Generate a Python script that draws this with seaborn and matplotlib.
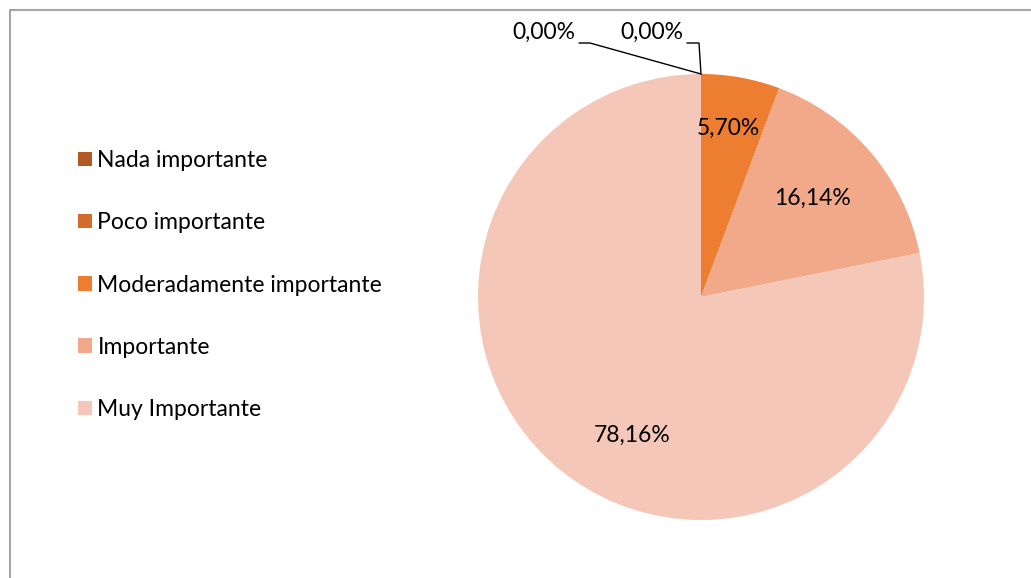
import numpy as np
import seaborn as sns
import matplotlib.pyplot as plt
from matplotlib.lines import Line2D

# data
categories = ["Nada importante", "Poco importante", "Moderadamente importante",
              "Importante", "Muy Importante"]
values = [0.00, 0.00, 5.70, 16.14, 78.16]
labels = ["0,00%", "0,00%", "5,70%", "16,14%", "78,16%"]
colors = ["#B25A26", "#D36B2C", "#ED7D31", "#F1A98A", "#F5C7B8"]

W, H = 1031, 578
CX, CY, R = 701, 297, 223  # pie centre / radius in pixels
FS = 16.5

sns.set_theme(style="white")
plt.rcParams['font.family'] = ['Lato', 'DejaVu Sans']
plt.rcParams['text.color'] = 'black'

fig = plt.figure(figsize=(W / 100, H / 100), dpi=100)
ax = fig.add_axes([0, 0, 1, 1])

wedges, _ = ax.pie(values, colors=colors, startangle=90, counterclock=False,
                   radius=1, wedgeprops=dict(linewidth=0))

ax.set_aspect('auto')
ax.set_xlim(-CX / R, (W - CX) / R)
ax.set_ylim(-(H - CY) / R, CY / R)
ax.axis('off')

# data labels (label positions in pie units)
label_pos = [(-0.704, 1.188), (-0.22, 1.188), (0.125, 0.758), (0.502, 0.444), (-0.309, -0.619)]
for txt, (x, y) in zip(labels, label_pos):
    ax.text(x, y, txt, ha='center', va='center', fontsize=FS, color='black')

# leader lines for the zero-size slices
for w, pts in zip(wedges[:2], [[(-0.547, 1.139), (-0.498, 1.139)],
                               [(-0.063, 1.139), (-0.009, 1.139)]]):
    tip = (np.cos(np.radians(w.theta2)), np.sin(np.radians(w.theta2)))
    xs = [p[0] for p in pts] + [tip[0]]
    ys = [p[1] for p in pts] + [tip[1]]
    ax.plot(xs, ys, color='black', lw=1, clip_on=False)

leg = ax.legend(wedges, categories, loc='center left',
                bbox_to_anchor=(78 / W, 1 - 285 / H), bbox_transform=fig.transFigure,
                frameon=False, fontsize=FS, handlelength=0.6, handleheight=0.6,
                handletextpad=0.25, labelspacing=1.8, borderpad=0, borderaxespad=0)
for t in leg.get_texts():
    t.set_color('black')

# chart border
border = '#A6A6A6'
fig.add_artist(Line2D([10 / W, 1], [1 - 10 / H, 1 - 10 / H], color=border, lw=1.5,
                      transform=fig.transFigure))
fig.add_artist(Line2D([10 / W, 10 / W], [0, 1 - 10 / H], color=border, lw=1.5,
                      transform=fig.transFigure))

fig.savefig("out.png", dpi=100, facecolor='white')
